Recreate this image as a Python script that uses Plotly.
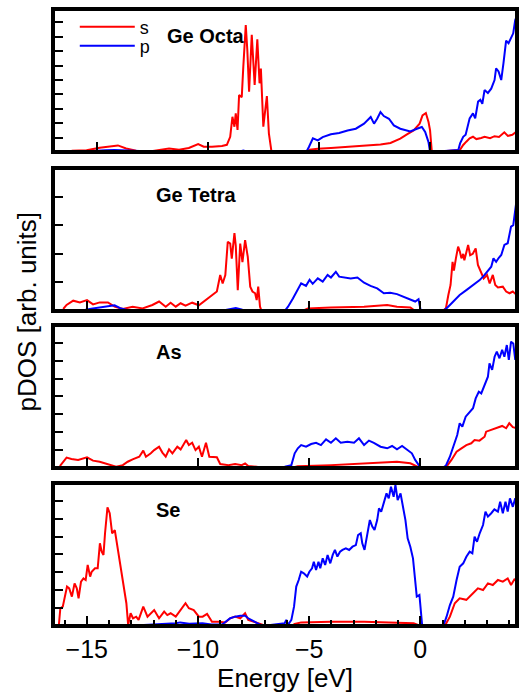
import plotly.graph_objects as go

# ---------------- data (energy in eV, pDOS in arbitrary units) ----------------
# Ge Octa
octa_s_E = [-16.12, -15.45, -14.86, -14.41, -14.04, -13.67, -13.22, -12.48, -11.74, -11.29, -10.85, -10.43, -10.18, -9.81, -9.36, -9.14, -8.99, -8.89, -8.8, -8.74, -8.66, -8.59, -8.47, -8.4, -8.29, -8.22, -8.14, -8.02, -7.89, -7.77, -7.67, -7.61, -7.5, -7.34, -7.25, -7.13, -5.57, -5.42, -5.05, -4.46, -3.71, -2.97, -2.23, -1.78, -1.34, -1.04, -0.74, -0.47, -0.34, -0.19, -0.07, 0.0, 0.08, 1.34, 1.49, 1.63, 1.78, 1.93, 2.08, 2.3, 2.45, 2.7, 2.9, 3.1, 3.34, 3.5, 3.7, 3.87]
octa_s = [0.09, 0.12, 0.3, 0.37, 0.46, 0.25, 0.09, 0.07, 0.25, 0.16, 0.28, 0.56, 0.37, 0.37, 0.42, 0.5, 1.06, 2.45, 1.76, 2.69, 1.53, 3.96, 3.8, 5.93, 8.82, 7.08, 4.19, 8.13, 4.65, 7.82, 4.77, 5.8, 1.76, 3.89, 1.3, 0.0, 0.0, 0.16, 0.23, 0.28, 0.35, 0.42, 0.53, 0.63, 0.93, 1.23, 1.5, 1.97, 2.55, 2.71, 2.08, 1.5, 0.0, 0.14, 0.49, 0.72, 0.95, 1.06, 0.9, 0.98, 1.06, 0.96, 1.1, 1.05, 1.37, 1.12, 1.2, 1.39]
octa_p_E = [-16.1, -15.0, -14.6, -14.2, -13.8, -13.4, -12.0, -8.6, -8.4, -8.2, -7.0, -5.57, -5.45, -5.27, -5.05, -4.83, -4.46, -4.09, -3.71, -3.34, -2.97, -2.67, -2.52, -2.38, -2.23, -2.08, -1.85, -1.63, -1.34, -0.89, -0.59, -0.37, -0.22, -0.07, 0.0, 1.27, 1.35, 1.49, 1.6, 1.71, 1.78, 1.93, 2.03, 2.16, 2.26, 2.35, 2.45, 2.6, 2.75, 2.9, 2.97, 3.08, 3.2, 3.3, 3.42, 3.53, 3.64, 3.74, 3.83, 3.9]
octa_p = [0.0, 0.05, 0.12, 0.15, 0.12, 0.05, 0.0, 0.03, 0.1, 0.03, 0.0, 0.0, 0.35, 0.95, 0.81, 1.04, 1.23, 1.32, 1.5, 1.62, 1.97, 2.43, 1.97, 2.31, 2.78, 2.5, 2.31, 1.85, 1.62, 1.43, 1.62, 1.74, 1.39, 0.69, 0.0, 0.14, 0.6, 1.06, 1.2, 1.99, 2.34, 2.68, 2.34, 3.5, 3.62, 3.35, 4.3, 4.1, 4.4, 5.0, 5.8, 5.6, 5.0, 6.16, 7.73, 7.55, 7.9, 8.24, 9.17, 9.4]

# Ge Tetra
tetra_s_E = [-16.06, -15.91, -15.61, -15.31, -14.99, -14.72, -14.42, -14.05, -13.75, -13.38, -12.94, -12.49, -12.05, -11.75, -11.45, -11.23, -11.0, -10.78, -10.56, -10.26, -9.96, -9.67, -9.37, -9.15, -9.0, -8.89, -8.77, -8.66, -8.55, -8.48, -8.36, -8.3, -8.21, -8.1, -8.0, -7.88, -7.76, -7.65, -7.55, -7.43, -7.36, -7.29, -7.21, -7.14, -5.3, -5.06, -4.02, -2.53, -1.49, -1.05, -0.45, -0.23, 1.0, 1.15, 1.26, 1.36, 1.45, 1.51, 1.6, 1.7, 1.78, 1.85, 1.93, 1.98, 2.15, 2.24, 2.36, 2.49, 2.59, 2.7, 2.85, 3.0, 3.12, 3.26, 3.37, 3.49, 3.71, 3.86, 4.01, 4.16, 4.33]
tetra_s = [0.07, 0.21, 0.36, 0.3, 0.38, 0.23, 0.3, 0.3, 0.15, 0.07, 0.15, 0.09, 0.21, 0.33, 0.15, 0.29, 0.15, 0.27, 0.19, 0.29, 0.2, 0.38, 0.56, 0.68, 1.26, 0.96, 1.26, 2.42, 2.36, 1.83, 2.72, 2.28, 0.73, 2.36, 1.71, 2.48, 1.89, 0.85, 0.68, 0.62, 0.38, 0.85, 0.15, 0.0, 0.0, 0.09, 0.12, 0.15, 0.21, 0.15, 0.12, 0.0, 0.0, 0.09, 0.56, 0.91, 1.72, 1.41, 1.84, 2.25, 2.07, 1.84, 2.0, 1.77, 2.31, 1.95, 2.0, 2.19, 1.61, 1.41, 1.14, 1.26, 0.96, 1.26, 0.91, 0.82, 0.85, 0.68, 0.62, 0.68, 0.56]
tetra_p_E = [-16.0, -15.2, -14.8, -14.4, -14.0, -13.75, -13.5, -13.0, -9.0, -8.5, -8.3, -8.0, -7.5, -6.1, -5.95, -5.73, -5.51, -5.36, -5.14, -4.98, -4.84, -4.61, -4.39, -4.17, -4.02, -3.8, -3.65, -3.42, -3.13, -2.83, -2.53, -2.24, -1.94, -1.64, -1.35, -1.05, -0.75, -0.45, -0.23, -0.08, 0.02, 1.0, 1.15, 1.33, 1.55, 1.77, 2.07, 2.37, 2.67, 2.89, 3.03, 3.19, 3.29, 3.41, 3.53, 3.64, 3.78, 3.93, 4.08, 4.18, 4.3, 4.38]
tetra_p = [0.0, 0.02, 0.08, 0.12, 0.15, 0.2, 0.1, 0.0, 0.0, 0.06, 0.1, 0.04, 0.0, 0.0, 0.15, 0.44, 0.79, 0.97, 0.88, 1.09, 0.95, 1.14, 1.03, 1.26, 1.17, 1.37, 1.2, 1.17, 1.14, 1.17, 0.99, 0.88, 0.79, 0.62, 0.64, 0.59, 0.5, 0.41, 0.33, 0.41, 0.0, 0.0, 0.07, 0.21, 0.38, 0.56, 0.73, 0.91, 1.08, 1.26, 1.38, 1.55, 1.84, 1.72, 1.86, 1.96, 2.31, 2.37, 2.95, 3.0, 3.71, 4.17]

# As
as_s_E = [-16.21, -15.91, -15.69, -15.39, -14.99, -14.72, -14.42, -14.05, -13.68, -13.38, -13.16, -12.94, -12.64, -12.46, -12.34, -12.12, -11.97, -11.75, -11.6, -11.45, -11.3, -11.15, -10.93, -10.78, -10.63, -10.53, -10.41, -10.26, -10.11, -9.96, -9.82, -9.64, -9.49, -9.3, -9.15, -9.0, -8.63, -8.33, -8.03, -7.88, -7.74, -7.36, -7.1, -5.8, -5.51, -4.02, -2.53, -1.05, -0.45, -0.08, 0.0, 1.1, 1.21, 1.4, 1.63, 1.85, 2.07, 2.29, 2.44, 2.66, 2.89, 2.96, 3.18, 3.34, 3.49, 3.68, 3.86, 4.0, 4.16, 4.33]
as_s = [0.11, 0.58, 0.5, 0.45, 0.6, 0.41, 0.35, 0.22, 0.07, 0.16, 0.35, 0.48, 0.63, 0.97, 0.63, 0.82, 1.0, 1.19, 0.86, 0.63, 1.04, 0.82, 1.19, 1.04, 1.38, 1.56, 1.28, 1.41, 1.0, 1.19, 0.63, 1.41, 0.63, 0.63, 0.6, 0.22, 0.16, 0.22, 0.16, 0.26, 0.11, 0.07, 0.0, 0.0, 0.1, 0.16, 0.26, 0.35, 0.26, 0.07, 0.0, 0.0, 0.13, 0.45, 0.91, 1.1, 1.28, 1.38, 1.56, 1.53, 1.75, 2.03, 2.13, 2.22, 2.28, 2.35, 2.22, 2.5, 2.28, 2.22]
as_p_E = [-16.0, -15.0, -13.5, -10.0, -9.5, -8.0, -6.1, -5.8, -5.65, -5.51, -5.36, -5.14, -4.91, -4.69, -4.47, -4.24, -4.02, -3.8, -3.58, -3.28, -2.98, -2.76, -2.53, -2.31, -2.09, -1.79, -1.49, -1.27, -1.05, -0.82, -0.6, -0.38, -0.23, -0.08, 0.02, 1.0, 1.15, 1.33, 1.48, 1.66, 1.77, 1.89, 2.04, 2.22, 2.37, 2.49, 2.63, 2.74, 2.89, 3.04, 3.11, 3.23, 3.34, 3.44, 3.56, 3.68, 3.78, 3.89, 3.98, 4.08, 4.18, 4.27, 4.38]
as_p = [0.0, 0.03, 0.0, 0.04, 0.02, 0.0, 0.07, 0.16, 0.82, 1.1, 1.28, 1.19, 1.34, 1.41, 1.28, 1.6, 1.41, 1.66, 1.41, 1.47, 1.41, 1.66, 1.28, 1.53, 1.41, 1.19, 1.1, 1.23, 1.04, 1.23, 1.0, 0.82, 0.45, 0.16, 0.0, 0.0, 0.13, 0.63, 1.19, 1.84, 2.5, 2.31, 2.87, 3.15, 3.34, 3.89, 4.26, 4.17, 4.64, 5.1, 5.85, 5.48, 6.22, 6.5, 6.13, 6.6, 6.22, 6.87, 6.04, 7.06, 6.96, 6.04, 6.59]

# Se
se_s_E = [-16.26, -16.19, -16.08, -16.0, -15.89, -15.79, -15.67, -15.55, -15.45, -15.37, -15.26, -15.15, -15.05, -14.96, -14.85, -14.78, -14.63, -14.51, -14.41, -14.33, -14.25, -14.18, -14.07, -13.97, -13.86, -13.74, -13.62, -13.52, -13.41, -13.32, -13.22, -13.14, -13.03, -12.92, -12.78, -12.67, -12.46, -12.27, -11.97, -11.75, -11.52, -11.38, -11.23, -11.0, -10.78, -10.56, -10.41, -10.19, -9.96, -9.79, -9.59, -9.37, -9.07, -8.77, -8.55, -8.33, -8.1, -7.88, -7.74, -7.51, -7.29, -7.07, -5.8, -5.65, -5.36, -4.02, -2.53, -1.05, -0.3, 0.02, 1.1, 1.33, 1.55, 1.77, 2.07, 2.37, 2.59, 2.82, 3.04, 3.26, 3.49, 3.71, 3.93, 4.08, 4.23, 4.38]
se_s = [0.0, 0.99, 1.08, 1.64, 2.2, 2.1, 1.64, 2.38, 2.1, 1.55, 2.48, 2.66, 2.57, 3.41, 2.76, 3.03, 3.22, 3.22, 4.62, 4.15, 3.97, 5.18, 6.63, 6.3, 5.18, 5.36, 4.43, 3.5, 2.76, 2.01, 1.27, 0.06, 0.71, 0.43, 0.52, 0.34, 1.08, 0.52, 0.89, 0.43, 0.8, 0.61, 0.71, 0.52, 0.89, 1.27, 0.99, 0.89, 0.52, 0.52, 0.67, 0.24, 0.24, 0.19, 0.43, 0.52, 0.43, 0.71, 0.34, 0.24, 0.11, 0.06, 0.0, 0.11, 0.2, 0.24, 0.24, 0.2, 0.15, 0.0, 0.0, 0.52, 1.27, 1.55, 1.46, 1.83, 2.1, 2.01, 2.38, 2.29, 2.57, 2.48, 2.66, 2.29, 2.6, 2.48]
se_p_E = [-16.0, -13.0, -12.5, -11.5, -11.0, -10.8, -10.4, -9.8, -9.4, -8.9, -8.55, -8.33, -8.1, -7.88, -7.74, -7.4, -7.1, -6.1, -6.03, -5.95, -5.8, -5.68, -5.58, -5.47, -5.36, -5.24, -5.09, -4.99, -4.87, -4.79, -4.69, -4.58, -4.5, -4.39, -4.28, -4.17, -4.05, -3.94, -3.84, -3.73, -3.61, -3.5, -3.35, -3.2, -3.05, -2.9, -2.8, -2.68, -2.61, -2.51, -2.39, -2.27, -2.16, -2.06, -1.94, -1.86, -1.76, -1.64, -1.52, -1.42, -1.32, -1.2, -1.12, -1.02, -0.89, -0.78, -0.67, -0.57, -0.45, -0.33, -0.23, -0.16, -0.04, 0.02, 0.08, 1.03, 1.18, 1.33, 1.48, 1.63, 1.77, 1.93, 2.07, 2.22, 2.34, 2.44, 2.55, 2.67, 2.82, 2.93, 3.04, 3.19, 3.33, 3.49, 3.59, 3.71, 3.83, 3.93, 4.03, 4.16, 4.27, 4.38]
se_p = [0.0, 0.0, 0.05, 0.1, 0.15, 0.2, 0.12, 0.15, 0.08, 0.1, 0.43, 0.52, 0.57, 0.57, 0.43, 0.2, 0.0, 0.15, 0.34, 0.06, 0.34, 1.08, 2.2, 2.57, 3.03, 2.94, 2.76, 3.03, 3.22, 3.59, 3.13, 3.59, 3.22, 3.78, 3.41, 3.97, 3.5, 3.97, 4.25, 3.88, 4.15, 4.25, 4.34, 4.25, 4.43, 4.52, 5.08, 5.18, 4.62, 4.25, 5.18, 5.92, 5.55, 5.36, 5.92, 6.57, 6.38, 6.85, 7.41, 7.13, 7.78, 7.22, 7.88, 7.03, 7.41, 6.66, 5.92, 4.9, 4.43, 3.78, 2.66, 1.64, 1.73, 0.8, 0.06, 0.0, 0.52, 1.17, 1.64, 2.57, 3.31, 3.5, 3.87, 4.15, 4.06, 4.99, 4.71, 5.18, 5.64, 6.39, 6.11, 6.3, 6.52, 6.39, 6.94, 6.3, 6.94, 6.39, 7.13, 6.66, 7.13, 6.76]

panel_names = ["Ge Octa", "Ge Tetra", "As", "Se"]
energy_ticks = [-15, -10, -5, 0]

# ---------------- figure ----------------
RED = "#ff0000"
BLUE = "#0000ff"
FONT = "Liberation Sans, Arial, Helvetica, sans-serif"

series = [
    (octa_s_E, octa_s, octa_p_E, octa_p),
    (tetra_s_E, tetra_s, tetra_p_E, tetra_p),
    (as_s_E, as_s, as_p_E, as_p),
    (se_s_E, se_s, se_p_E, se_p),
]
for a, b, c, d in series:
    assert len(a) == len(b) and len(c) == len(d)

x_ranges = [[-16.87, 3.82], [-16.43, 4.258], [-16.43, 4.258], [-16.43, 4.258]]
y_ranges = [[0.14, 9.79], [0.07, 4.93], [0.11, 7.88], [0.11, 7.88]]
y_ticks = [list(range(1, 10)), list(range(1, 5)), list(range(1, 8)), list(range(1, 8))]
y_domains = [[0.7732, 1.0], [0.5139, 0.7406], [0.2577, 0.4845], [0.0, 0.2268]]
label_x = [0.239, 0.2155, 0.2155, 0.2155]

fig = go.Figure()
layout_axes = {}
annotations = []
for i, (sE, s, pE, p) in enumerate(series):
    n = i + 1
    xa = "x" if n == 1 else f"x{n}"
    ya = "y" if n == 1 else f"y{n}"
    fig.add_trace(go.Scatter(
        x=sE, y=s, mode="lines", line=dict(color=RED, width=2),
        name="s", showlegend=(n == 1), legend="legend",
        xaxis=xa, yaxis=ya, hoverinfo="skip"))
    fig.add_trace(go.Scatter(
        x=pE, y=p, mode="lines", line=dict(color=BLUE, width=2),
        name="p", showlegend=(n == 1), legend="legend2",
        xaxis=xa, yaxis=ya, hoverinfo="skip"))
    xkey = "xaxis" if n == 1 else f"xaxis{n}"
    ykey = "yaxis" if n == 1 else f"yaxis{n}"
    xaxis = dict(
        domain=[0, 1], range=x_ranges[i], anchor=ya,
        showline=True, linewidth=4, linecolor="black", mirror=True,
        ticks="inside", ticklen=8, tickwidth=2, tickcolor="black",
        tickvals=energy_ticks, showticklabels=(n == 4),
        showgrid=False, zeroline=False,
        tickfont=dict(family=FONT, size=25, color="black"),
    )
    if n == 4:
        xaxis["minor"] = dict(ticks="inside", ticklen=4, tickwidth=2,
                              tickcolor="black", dtick=1, tick0=0, showgrid=False)
        xaxis["title"] = dict(text="Energy [eV]", font=dict(family=FONT, size=26, color="black"),
                              standoff=0)
    yaxis = dict(
        domain=y_domains[i], range=y_ranges[i], anchor=xa,
        showline=True, linewidth=4, linecolor="black", mirror=True,
        ticks="inside", ticklen=8, tickwidth=1.5, tickcolor="black",
        tickvals=y_ticks[i], showticklabels=False,
        showgrid=False, zeroline=False,
    )
    layout_axes[xkey] = xaxis
    layout_axes[ykey] = yaxis
    annotations.append(dict(
        text=f"<b>{panel_names[i]}</b>", xref=f"{xa} domain", yref=f"{ya} domain",
        x=label_x[i], y=0.82, xanchor="left", yanchor="middle", showarrow=False,
        font=dict(family=FONT, size=20, color="black")))

annotations.append(dict(
    text="pDOS [arb. units]", xref="paper", yref="paper", x=-0.06, y=0.509,
    xanchor="center", yanchor="middle", textangle=-90, showarrow=False,
    font=dict(family=FONT, size=26, color="black")))

fig.update_layout(
    width=523, height=695,
    margin=dict(l=55, r=4, t=11, b=71),
    paper_bgcolor="white", plot_bgcolor="white",
    font=dict(family=FONT, color="black"),
    annotations=annotations,
    legend=dict(x=0.043, y=0.974, xanchor="left", yanchor="middle",
                bgcolor="rgba(0,0,0,0)", borderwidth=0, itemwidth=55,
                font=dict(family=FONT, size=18, color="black")),
    legend2=dict(x=0.043, y=0.943, xanchor="left", yanchor="middle",
                 bgcolor="rgba(0,0,0,0)", borderwidth=0, itemwidth=55,
                 font=dict(family=FONT, size=18, color="black")),
    **layout_axes,
)

fig.write_html("out.html")
